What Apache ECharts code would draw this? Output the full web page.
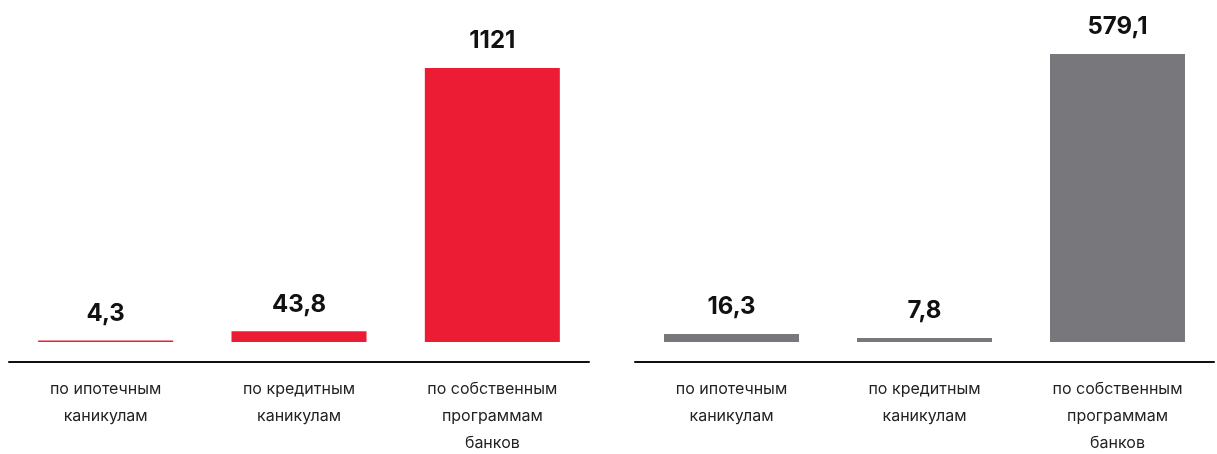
<!DOCTYPE html>
<html><head><meta charset="utf-8">
<script src="https://cdn.jsdelivr.net/npm/echarts@6/dist/echarts.min.js"></script>
<style>html,body{margin:0;padding:0;background:#fff}#c{width:1217px;height:454px}</style>
</head><body><div id="c"></div>
<script>
const categories = ['по ипотечным\nканикулам', 'по кредитным\nканикулам', 'по собственным\nпрограммам\nбанков'];
const leftValues = [4.3, 43.8, 1121];
const rightValues = [16.3, 7.8, 579.1];
const fmt = p => String(p.value).replace('.', ',');
const chart = echarts.init(document.getElementById('c'), null, {renderer: 'canvas'});
const font = 'Inter, "Noto Sans", sans-serif';
function xAxis(gi){
  return {type:'category', gridIndex:gi, data:categories, offset:20,
    axisLine:{show:true, onZero:false, lineStyle:{color:'#111', width:2}}, axisTick:{show:false},
    axisLabel:{color:'#222', fontSize:16, lineHeight:27, fontFamily:font, margin:14}};
}
function yAxis(gi){
  return {type:'value', gridIndex:gi, min:0, max:'dataMax', show:false, splitLine:{show:false}};
}
function series(gi, data, color){
  return {type:'bar', xAxisIndex:gi, yAxisIndex:gi, data:data, barWidth:135, barMinHeight:1.5,
    itemStyle:{color:color},
    label:{show:true, position:'top', distance:15, formatter:fmt, color:'#111', fontSize:24, fontWeight:'bold', fontFamily:font}};
}
chart.setOption({
  animation:false,
  grid:[{left:9, width:580, top:68, bottom:112, containLabel:false, outerBoundsMode:'none'},
        {left:635, right:3, top:54, bottom:112, containLabel:false, outerBoundsMode:'none'}],
  xAxis:[xAxis(0), xAxis(1)],
  yAxis:[yAxis(0), yAxis(1)],
  series:[series(0, leftValues, '#EC1C35'), series(1, rightValues, '#78787C')]
});
</script></body></html>
